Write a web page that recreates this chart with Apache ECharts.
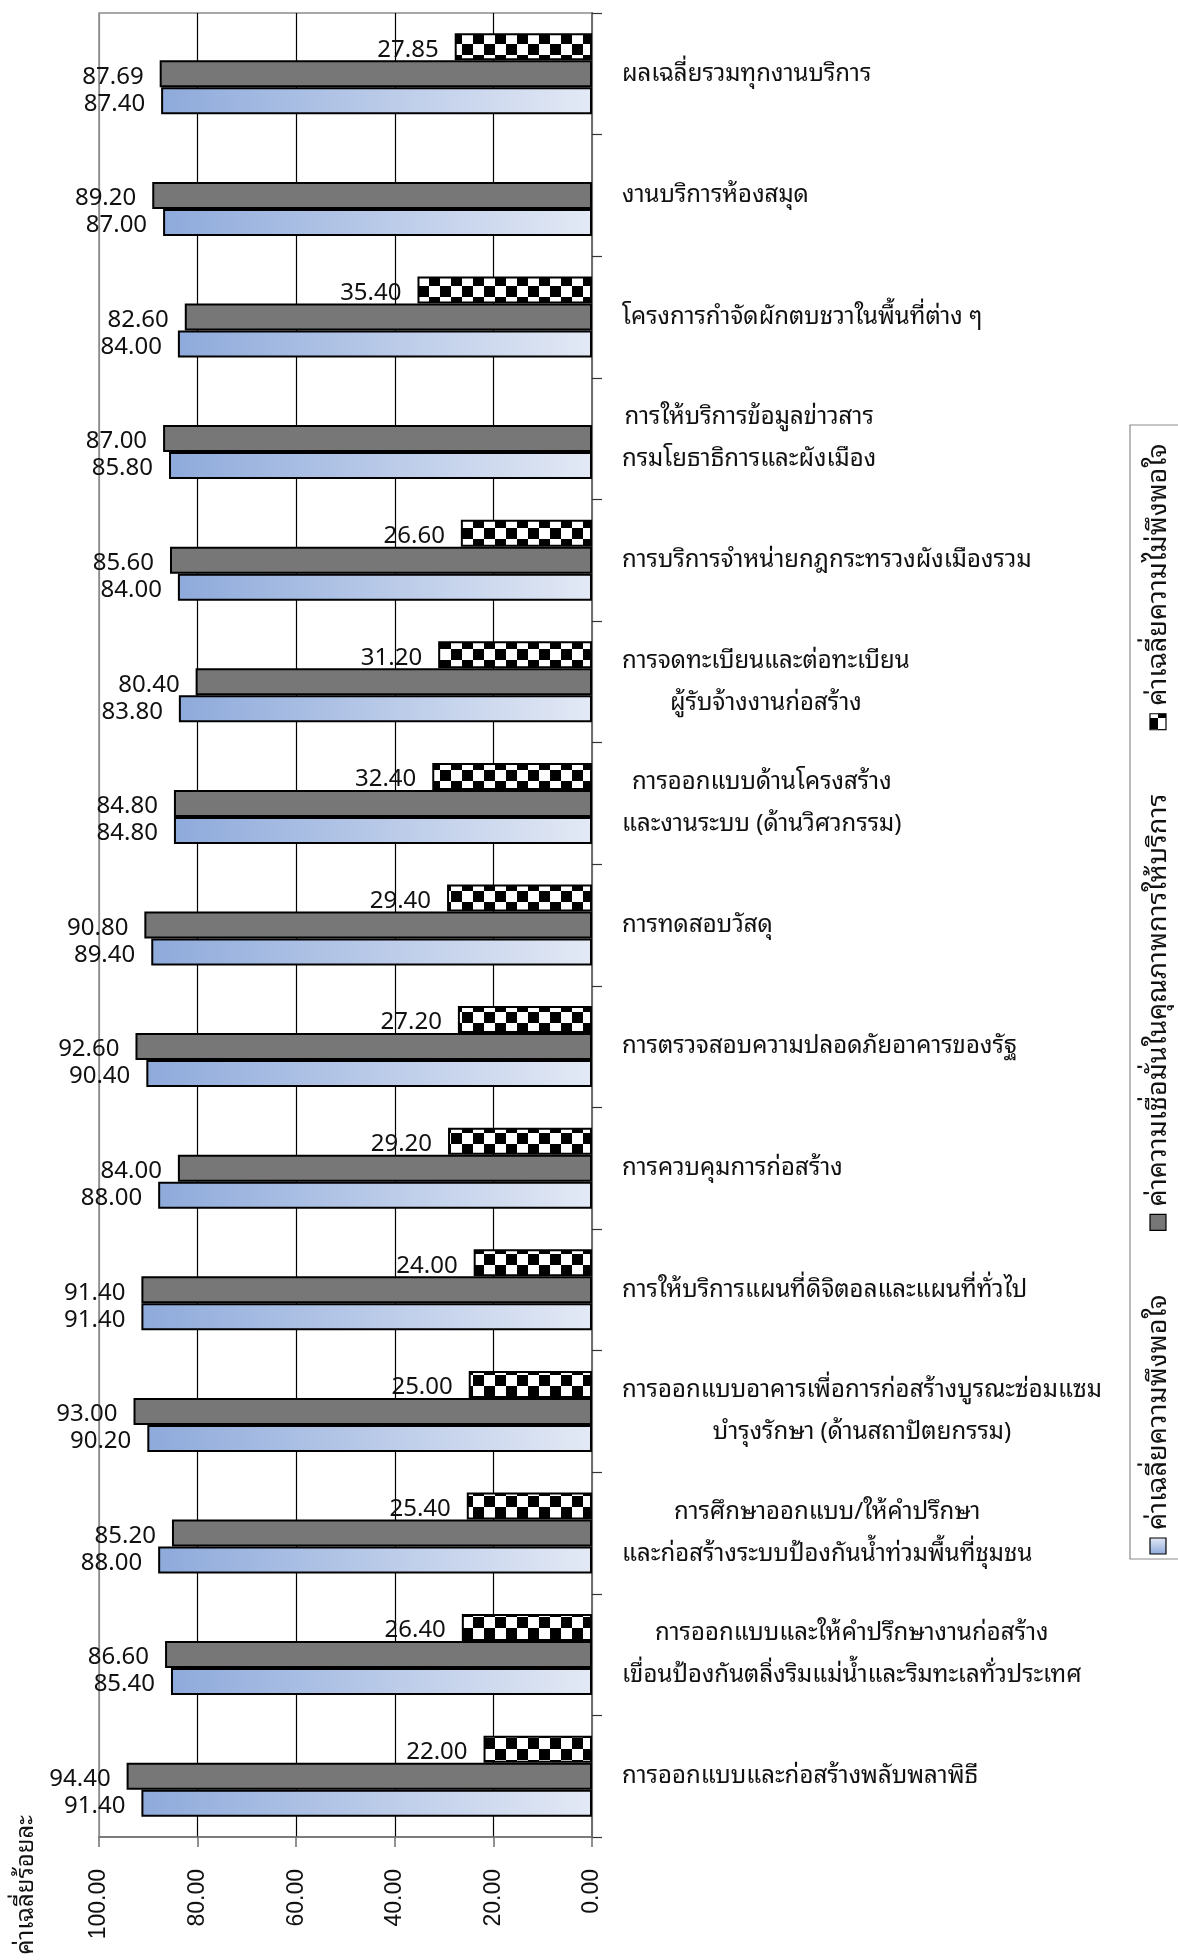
<!DOCTYPE html>
<html>
<head>
<meta charset="utf-8">
<script src="https://cdn.jsdelivr.net/npm/echarts@6/dist/echarts.min.js"></script>
<style>
  html, body { margin: 0; padding: 0; background: #ffffff; }
  #chart { width: 1178px; height: 1960px; }
</style>
</head>
<body>
<div id="chart"></div>
<script>
// Service categories, top to bottom
const categories = [
  'ผลเฉลี่ยรวมทุกงานบริการ',
  'งานบริการห้องสมุด',
  'โครงการกำจัดผักตบชวาในพื้นที่ต่าง ๆ',
  'การให้บริการข้อมูลข่าวสาร\nกรมโยธาธิการและผังเมือง',
  'การบริการจำหน่ายกฎกระทรวงผังเมืองรวม',
  'การจดทะเบียนและต่อทะเบียน\nผู้รับจ้างงานก่อสร้าง',
  'การออกแบบด้านโครงสร้าง\nและงานระบบ (ด้านวิศวกรรม)',
  'การทดสอบวัสดุ',
  'การตรวจสอบความปลอดภัยอาคารของรัฐ',
  'การควบคุมการก่อสร้าง',
  'การให้บริการแผนที่ดิจิตอลและแผนที่ทั่วไป',
  'การออกแบบอาคารเพื่อการก่อสร้างบูรณะซ่อมแซม\nบำรุงรักษา (ด้านสถาปัตยกรรม)',
  'การศึกษาออกแบบ/ให้คำปรึกษา\nและก่อสร้างระบบป้องกันน้ำท่วมพื้นที่ชุมชน',
  'การออกแบบและให้คำปรึกษางานก่อสร้าง\nเขื่อนป้องกันตลิ่งริมแม่น้ำและริมทะเลทั่วประเทศ',
  'การออกแบบและก่อสร้างพลับพลาพิธี'
];

const seriesNames = [
  'ค่าเฉลี่ยความพึงพอใจ',
  'ค่าความเชื่อมั่นในคุณภาพการให้บริการ',
  'ค่าเฉลี่ยความไม่พึงพอใจ'
];

// Average satisfaction (%)
const satisfaction = [87.40, 87.00, 84.00, 85.80, 84.00, 83.80, 84.80, 89.40, 90.40, 88.00, 91.40, 90.20, 88.00, 85.40, 91.40];
// Confidence in service quality (%)
const confidence = [87.69, 89.20, 82.60, 87.00, 85.60, 80.40, 84.80, 90.80, 92.60, 84.00, 91.40, 93.00, 85.20, 86.60, 94.40];
// Average dissatisfaction (%); null where not reported
const dissatisfaction = [27.85, null, 35.40, null, 26.60, 31.20, 32.40, 29.40, 27.20, 29.20, 24.00, 25.00, 25.40, 26.40, 22.00];

const valueTicks = [0, 20, 40, 60, 80, 100];
const axisTitle = 'ค่าเฉลี่ยร้อยละ';

const THAI_FONT = '"Noto Sans Thai Looped", "Noto Sans Thai", "Noto Sans", Tahoma, sans-serif';
const NUM_FONT = '"Noto Sans", "DejaVu Sans", sans-serif';
const TICK_FONT = '"Liberation Sans", Arial, sans-serif';
const CAT_SIZE = 24;
const LEGEND_SIZE = 27;

// Black/white checkerboard fill
function makeChecker(cell) {
  const c = document.createElement('canvas');
  c.width = c.height = cell * 2;
  const g = c.getContext('2d');
  g.fillStyle = '#ffffff';
  g.fillRect(0, 0, cell * 2, cell * 2);
  g.fillStyle = '#000000';
  g.fillRect(0, 0, cell, cell);
  g.fillRect(cell, cell, cell, cell);
  return c;
}
const checkerFill = { image: makeChecker(11), repeat: 'repeat' };
const blueFill = () => new echarts.graphic.LinearGradient(0, 0, 1, 0, [
  { offset: 0, color: '#8eaadb' },
  { offset: 1, color: '#e3e9f5' }
]);
const grayFill = '#777777';

function measureText(text, size, family) {
  const ctx = document.createElement('canvas').getContext('2d');
  ctx.font = size + 'px ' + family;
  return ctx.measureText(text).width;
}

const valueLabel = {
  show: true,
  position: 'left',
  distance: 16,
  fontSize: 24,
  fontFamily: NUM_FONT,
  color: '#111111',
  offset: [0, 3],
  formatter: p => (p.value == null ? '' : Number(p.value).toFixed(2))
};

const barBase = {
  type: 'bar',
  barWidth: 27,
  barGap: '0%',
  label: valueLabel,
  animation: false
};

// Rotated legend, read bottom to top, drawn at the right edge
const legendFills = [blueFill(), grayFill, checkerFill];
const legendChildren = [];
let lx = 0;
seriesNames.forEach((name, i) => {
  legendChildren.push({
    type: 'rect',
    shape: { x: lx, y: -8, width: 16, height: 16 },
    style: { fill: legendFills[i], stroke: '#000000', lineWidth: 1.2 }
  });
  legendChildren.push({
    type: 'text',
    x: lx + 24,
    y: 0,
    style: {
      text: name,
      fontSize: LEGEND_SIZE,
      fontFamily: THAI_FONT,
      fill: '#111111',
      align: 'left',
      verticalAlign: 'middle'
    }
  });
  lx += 24 + measureText(name, LEGEND_SIZE, THAI_FONT) + 64;
});

const chart = echarts.init(document.getElementById('chart'), null, { renderer: 'canvas' });

chart.setOption({
  backgroundColor: '#ffffff',
  animation: false,
  grid: {
    left: 99,
    right: 586,
    top: 13,
    bottom: 123,
    show: true,
    borderColor: '#8c8c8c',
    borderWidth: 1.5,
    backgroundColor: 'transparent'
  },
  xAxis: {
    type: 'value',
    inverse: true,
    min: valueTicks[0],
    max: valueTicks[valueTicks.length - 1],
    interval: valueTicks[1] - valueTicks[0],
    position: 'bottom',
    axisLine: { show: true, onZero: false, lineStyle: { color: '#6e6e6e', width: 1.5 } },
    axisTick: { show: true, length: 10, lineStyle: { color: '#6e6e6e', width: 1.5 } },
    splitLine: {
      show: true,
      lineStyle: { color: ['#8c8c8c', '#000000', '#000000', '#000000', '#000000', '#8c8c8c'], width: 1.2 }
    },
    axisLabel: {
      rotate: 90,
      margin: 32,
      fontSize: 23,
      fontFamily: TICK_FONT,
      color: '#111111',
      formatter: v => Number(v).toFixed(2)
    }
  },
  yAxis: {
    type: 'category',
    inverse: true,
    position: 'right',
    data: categories,
    axisLine: { show: true, onZero: false, lineStyle: { color: '#6e6e6e', width: 2 } },
    axisTick: { show: true, length: 10, lineStyle: { color: '#333333', width: 1.2 } },
    splitLine: { show: false },
    axisLabel: {
      interval: 0,
      margin: 30,
      color: '#111111',
      fontSize: CAT_SIZE,
      fontFamily: THAI_FONT,
      lineHeight: 42,
      formatter: v => v.split('\n').map(s => '{c|' + s + '}').join('\n'),
      rich: {
        c: { align: 'center', fontSize: CAT_SIZE, fontFamily: THAI_FONT, color: '#111111', lineHeight: 42 }
      }
    }
  },
  series: [
    Object.assign({}, barBase, {
      name: seriesNames[2],
      data: dissatisfaction,
      itemStyle: { color: checkerFill, borderColor: '#000000', borderWidth: 2 }
    }),
    Object.assign({}, barBase, {
      name: seriesNames[1],
      data: confidence,
      itemStyle: { color: grayFill, borderColor: '#000000', borderWidth: 2 }
    }),
    Object.assign({}, barBase, {
      name: seriesNames[0],
      data: satisfaction,
      itemStyle: { color: blueFill(), borderColor: '#000000', borderWidth: 2 }
    })
  ],
  graphic: [
    {
      type: 'rect',
      shape: { x: 1130, y: 425, width: 80, height: 1134 },
      style: { fill: '#ffffff', stroke: '#8c8c8c', lineWidth: 1.2 }
    },
    {
      type: 'group',
      x: 1158,
      y: 1554,
      rotation: Math.PI / 2,
      children: legendChildren
    },
    {
      type: 'text',
      x: 26,
      y: 1815,
      rotation: Math.PI / 2,
      style: {
        text: axisTitle,
        fontSize: CAT_SIZE,
        fontFamily: THAI_FONT,
        fill: '#111111',
        align: 'right',
        verticalAlign: 'middle'
      }
    }
  ]
});
</script>
</body>
</html>
